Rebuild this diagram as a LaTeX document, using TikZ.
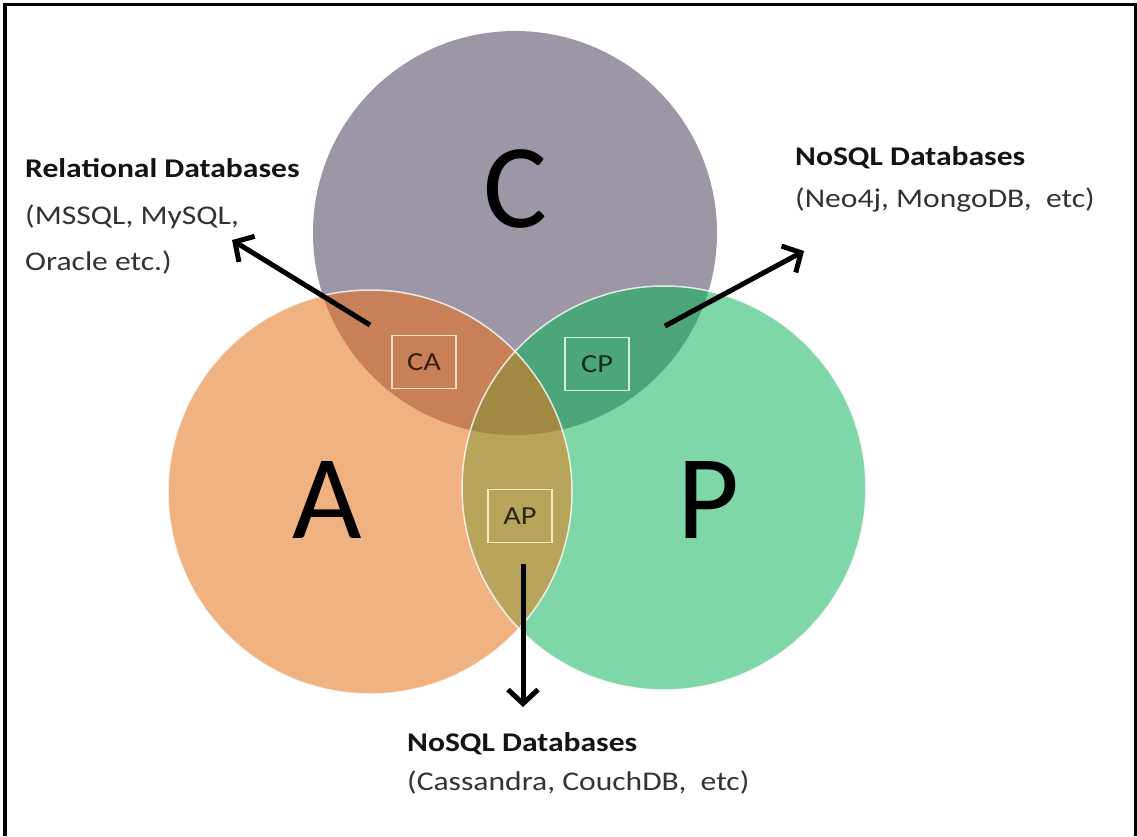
\documentclass[tikz,border=0pt]{standalone}
\usepackage{fontspec}
\setmainfont{Carlito}[FakeStretch=1.17]
\newfontfamily\bigletters{Carlito}
\usetikzlibrary{arrows.meta}
\definecolor{colC}{RGB}{156,150,166}
\definecolor{colA}{RGB}{239,178,128}
\definecolor{colP}{RGB}{127,214,166}
\definecolor{colCA}{RGB}{200,128,88}
\definecolor{colCP}{RGB}{76,166,122}
\definecolor{colAP}{RGB}{183,165,92}
\definecolor{colCAP}{RGB}{160,137,66}
\definecolor{edgeCA}{RGB}{245,228,196}
\definecolor{edgeCP}{RGB}{205,240,220}
\definecolor{edgeAP}{RGB}{245,235,185}
\definecolor{txtCA}{RGB}{59,30,18}
\definecolor{txtCP}{RGB}{14,46,32}
\definecolor{txtAP}{RGB}{42,36,16}
\begin{document}
\begin{tikzpicture}[x=1pt,y=-1pt,
  lbl/.style={inner sep=0pt, anchor=base west, font=\fontsize{27}{32}\selectfont, text=black!80},
  hd/.style={inner sep=0pt, anchor=base west, font=\fontsize{27}{32}\selectfont\bfseries, text=black!92},
  big/.style={inner sep=0pt, anchor=base west, font=\bigletters\fontsize{120}{130}\selectfont, text=black},
  tagbox/.style={draw, line width=1.5pt, minimum width=64pt, minimum height=53pt, inner sep=0pt, font=\fontsize{26}{30}\selectfont},
  ptr/.style={line width=5pt, black, -{Straight Barb[length=14pt,width=30pt]}},
  rim/.style={draw=white, draw opacity=0.8, line width=1.5pt}
]
\useasboundingbox (0,0) rectangle (1137,836);
\fill[white] (0,0) rectangle (1137,836);
\draw[line width=3.5pt] (5,836) -- (5,4.5) -- (1135.5,4.5) -- (1135.5,836);

\coordinate (cC) at (515,233);
\coordinate (cA) at (370,492);
\coordinate (cP) at (664,488);

% base fills
\fill[colC] (cC) circle[radius=202pt];
\fill[colA] (cA) circle[radius=202pt];
\fill[colP] (cP) circle[radius=202pt];
% pairwise overlaps
\begin{scope}
  \clip (cC) circle[radius=202pt];
  \fill[colCA] (cA) circle[radius=202pt];
  \fill[colCP] (cP) circle[radius=202pt];
\end{scope}
\begin{scope}
  \clip (cA) circle[radius=202pt];
  \fill[colAP] (cP) circle[radius=202pt];
\end{scope}
% triple overlap
\begin{scope}
  \clip (cC) circle[radius=202pt];
  \clip (cA) circle[radius=202pt];
  \fill[colCAP] (cP) circle[radius=202pt];
\end{scope}
% rims
\path[rim] (cA) circle[radius=202pt];
\path[rim] (cP) circle[radius=202pt];

% big letters
\node[big] (bigC) at (483,227) {C};
\node[big] (bigA) at (292,538) {A};
\node[big] (bigP) at (677,538) {P};

% tag boxes
\node[tagbox, draw=edgeCA, text=txtCA] (tagCA) at (424,362) {CA};
\node[tagbox, draw=edgeCP, text=txtCP] (tagCP) at (597,364) {CP};
\node[tagbox, draw=edgeAP, text=txtAP] (tagAP) at (520,516) {AP};

% labels
\node[hd]  (rel1) at (25,177) {Relational Databases};
\node[lbl] (rel2) at (25,224) {(MSSQL, MySQL,};
\node[lbl] (rel3) at (25,270) {Oracle etc.)};

\node[hd]  (nsq1) at (795,165) {NoSQL Databases};
\node[lbl] (nsq2) at (795,207) {(Neo4j, MongoDB,\ \ etc)};

\node[hd]  (nap1) at (407,751) {NoSQL Databases};
\node[lbl] (nap2) at (407,790) {(Cassandra, CouchDB,\ \ etc)};

% arrows
\coordinate (tailCA) at (370,325);
\coordinate (tipCA) at (232,240);
\coordinate (tailCP) at (665,326);
\coordinate (tipCP) at (804,251);
\coordinate (tailAP) at (523,564);
\coordinate (tipAP) at (523,707);
\draw[ptr] (tailCA) -- (tipCA);
\draw[ptr] (tailCP) -- (tipCP);
\draw[ptr] (tailAP) -- (tipAP);
\end{tikzpicture}
\end{document}
